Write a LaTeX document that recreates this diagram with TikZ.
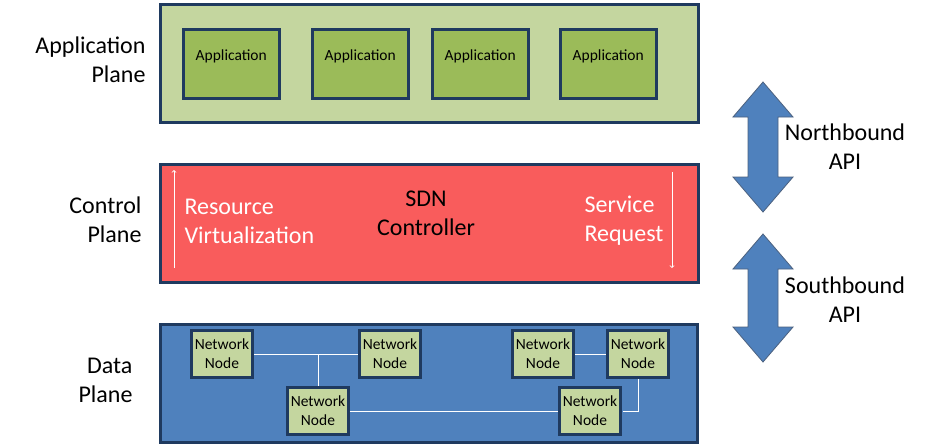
\documentclass[tikz,border=0pt]{standalone}
\usepackage{fontspec}
\setmainfont{Carlito}
\definecolor{bd}{HTML}{1F3A5F}
\definecolor{lg}{HTML}{C4D69F}
\definecolor{ag}{HTML}{9BBB59}
\definecolor{rd}{HTML}{F95C5C}
\definecolor{bl}{HTML}{4F81BD}
\begin{document}
\begin{tikzpicture}[x=1pt,y=-1pt,
  plane/.style={draw=bd,line width=2.5pt},
  app/.style={draw=bd,line width=2.5pt,fill=ag,minimum width=96pt,minimum height=69pt,font=\fontsize{15.5}{17}\selectfont,text depth=0pt,anchor=north west,inner sep=0pt},
  nn/.style={draw=bd,line width=2.5pt,fill=lg,minimum width=61pt,minimum height=47pt,align=center,font=\fontsize{15.5}{19}\selectfont,inner sep=0pt},
  big/.style={font=\fontsize{24}{29}\selectfont},
  lbl/.style={big,align=right,anchor=east},
  wl/.style={white,line width=1pt},
  barr/.style={fill=bl,draw=bd!80,line width=0.8pt}]
\useasboundingbox (0,0) rectangle (926,445);
\fill[white] (0,0) rectangle (926,445);
% planes
\node[plane,fill=lg,minimum width=538pt,minimum height=118pt,anchor=north west,inner sep=0pt] (ap) at (159,3) {};
\node[plane,fill=rd,minimum width=538pt,minimum height=118pt,anchor=north west,inner sep=0pt] (cp) at (159,163) {};
\node[plane,fill=bl,minimum width=537pt,minimum height=118pt,anchor=north west,inner sep=0pt] (dp) at (159,323) {};
% apps
\node[app] (a1) at (182,28) {\raisebox{18pt}{Application}};
\node[app] (a2) at (311,28) {\raisebox{18pt}{Application}};
\node[app] (a3) at (431,28) {\raisebox{18pt}{Application}};
\node[app] (a4) at (559,28) {\raisebox{18pt}{Application}};
% control texts
\node[big,align=center] (sdn) at (426,213) {SDN\\Controller};
\node[big,align=left,anchor=west,white] (rv) at (181,221) {Resource\\Virtualization};
\node[big,align=left,anchor=west,white] (sr) at (581,221) {Service\\Request};
\coordinate (u1) at (174,268); \coordinate (u2) at (174,170);
\coordinate (d1) at (672,172); \coordinate (d2) at (672,268);
\draw[white,line width=0.8pt,->] (u1) -- (u2);
\draw[white,line width=0.8pt,->] (d1) -- (d2);
% network nodes
\node[nn] (n1) at (222,354) {Network\\Node};
\node[nn] (n2) at (390,354) {Network\\Node};
\node[nn] (n3) at (318,411) {Network\\Node};
\node[nn] (n4) at (543,354) {Network\\Node};
\node[nn] (n5) at (638,354) {Network\\Node};
\node[nn] (n6) at (590,411) {Network\\Node};
\coordinate (j1) at (n3.north |- n1.east);
\coordinate (c1) at (n5.south |- n6.east);
\coordinate (c2) at ([xshift=1pt]n6.east);
\draw[wl] (n1.east) -- (n2.west);
\draw[wl] (j1) -- (n3.north);
\draw[wl] (n3.east) -- (n6.west);
\draw[wl] (n4.east) -- (n5.west);
\draw[wl] (n5.south) -- (c1) -- (c2);
% labels
\node[lbl] (lap) at (149,60) {Application\\Plane};
\node[lbl] (lcp) at (145,220) {Control\\Plane};
\node[lbl] (ldp) at (136,380) {Data\\Plane};
% API arrows
\draw[barr] (763,82) -- (793,117) -- (778,117) -- (778,177) -- (793,177) -- (763,212) -- (733,177) -- (748,177) -- (748,117) -- (733,117) -- cycle;
\draw[barr] (763,234) -- (793,269) -- (778,269) -- (778,327) -- (793,327) -- (763,362) -- (733,327) -- (748,327) -- (748,269) -- (733,269) -- cycle;
\node[big,align=center] (nl) at (845,147) {Northbound\\API};
\node[big,align=center] (sl) at (845,300) {Southbound\\API};
\end{tikzpicture}
\end{document}
